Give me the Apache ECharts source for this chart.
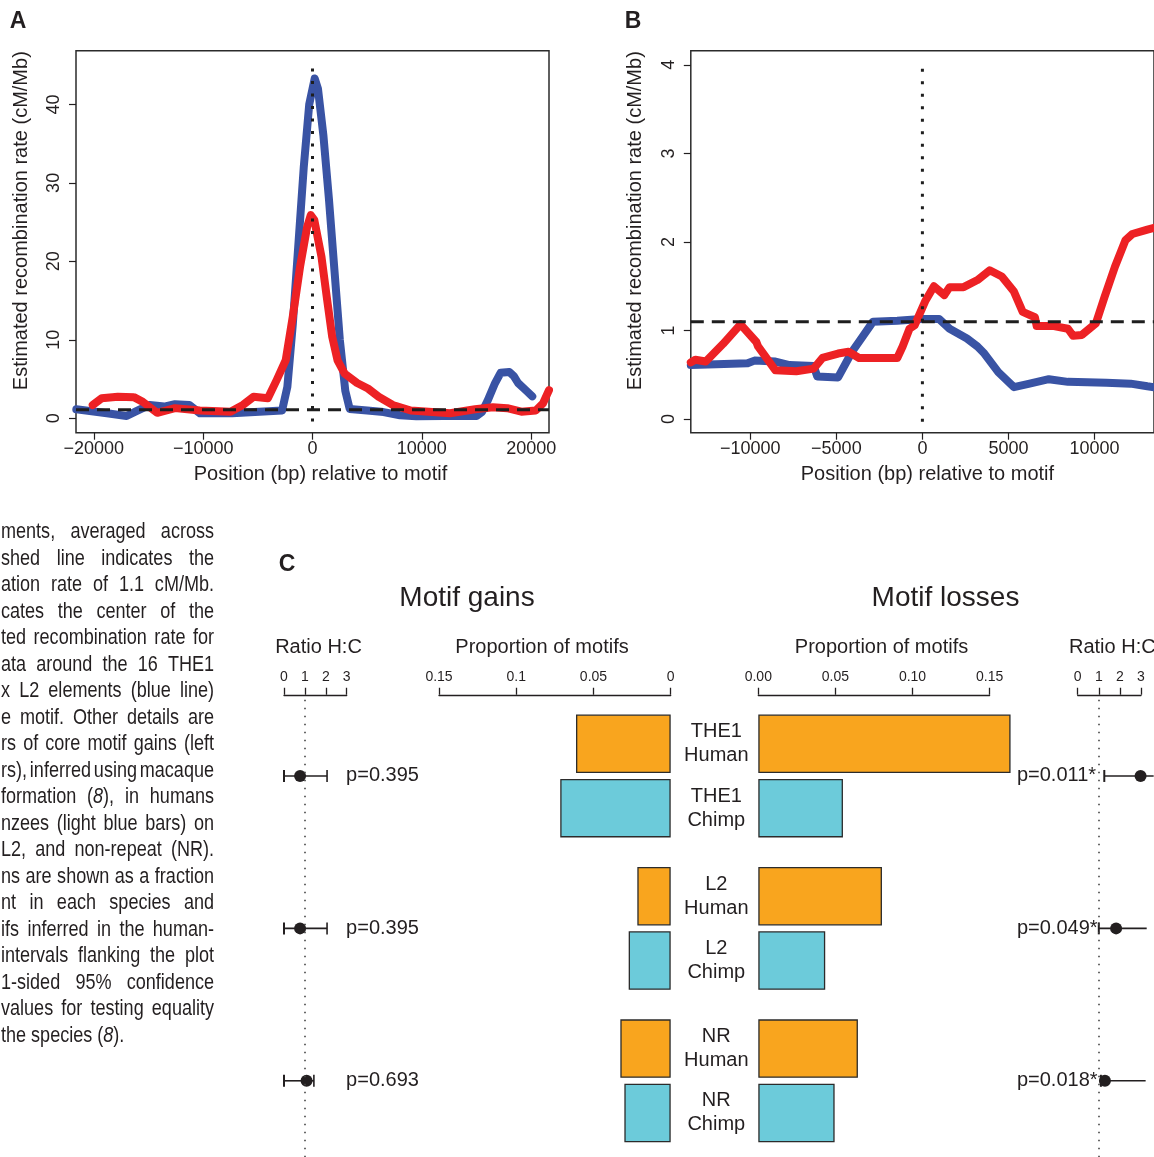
<!DOCTYPE html>
<html><head><meta charset="utf-8">
<script src="https://cdn.jsdelivr.net/npm/echarts@6/dist/echarts.min.js"></script>
<style>html,body{margin:0;padding:0;background:#fff}#c{width:1154px;height:1157px}</style>
</head><body><div id="c"></div>
<script>
// ---------- DATA ----------
// Panel A: position (bp) vs recombination rate (cM/Mb)
const aBlue = [[-21600,1.15],[-18800,0.65],[-17000,0.3],[-16200,0.85],[-14900,1.7],[-13560,1.5],[-12580,1.8],[-11270,1.7],[-10300,0.65],[-7350,0.65],[-2780,1.0],[-2700,1.1],[-2300,4],[-1800,12],[-1300,22],[-800,32],[-300,40],[200,43.3],[500,42],[1000,36],[1500,28],[2000,19],[2500,10],[3000,3.5],[3400,1.2],[5000,1.0],[6500,0.8],[8000,0.4],[9500,0.25],[12000,0.3],[15000,0.3],[15500,0.8],[16000,2.2],[16700,4.5],[17200,5.8],[18000,5.9],[18400,5.4],[18800,4.5],[19500,3.6],[20100,2.8]];
const aRed = [[-20100,1.7],[-19280,2.55],[-17800,2.75],[-16340,2.7],[-15520,2.1],[-14200,0.7],[-12580,1.3],[-10300,1.0],[-7500,0.85],[-6370,1.7],[-5390,2.75],[-4080,2.55],[-3270,4.9],[-2450,7.4],[-1800,13],[-1140,19.3],[-490,24.4],[-160,25.9],[160,25.3],[820,20.6],[1300,15.5],[1800,10.4],[2290,7.4],[2940,5.7],[4080,4.5],[5070,3.8],[6050,2.75],[7350,1.7],[8990,1.0],[10620,0.85],[12580,0.65],[14870,1.15],[16500,1.4],[17800,1.3],[19100,0.85],[20420,1.0],[21080,1.9],[21630,3.6]];
// Panel B
const bBlue = [[-13460,0.61],[-11980,0.62],[-10160,0.63],[-9760,0.66],[-8540,0.65],[-7730,0.61],[-6315,0.60],[-6110,0.48],[-4900,0.47],[-4090,0.76],[-3480,0.93],[-2870,1.10],[-1460,1.11],[-40,1.13],[970,1.13],[1580,1.02],[2590,0.91],[3200,0.82],[3600,0.74],[4410,0.53],[5320,0.36],[6230,0.40],[7350,0.45],[8460,0.42],[10690,0.41],[12100,0.40],[13075,0.37],[13460,0.36]];
const bRed = [[-13460,0.64],[-13200,0.67],[-12590,0.65],[-11580,0.85],[-10570,1.07],[-9650,0.87],[-9550,0.82],[-8540,0.55],[-7330,0.54],[-6315,0.57],[-5810,0.69],[-4900,0.74],[-4290,0.76],[-3680,0.69],[-1460,0.69],[-1150,0.82],[-750,1.02],[-445,1.06],[160,1.33],[670,1.50],[1275,1.40],[1580,1.49],[2390,1.49],[3200,1.57],[3910,1.68],[4615,1.61],[5320,1.44],[5830,1.21],[6540,1.15],[6640,1.05],[7650,1.05],[8460,1.02],[8760,0.94],[9270,0.95],[10080,1.08],[10590,1.38],[11190,1.72],[11800,2.02],[12200,2.09],[13075,2.14],[13460,2.16]];
const genomeAvg = 1.1;
const aXTicks = [-20000,-10000,0,10000,20000];
const aYTicks = [0,10,20,30,40];
const bXTicks = [-10000,-5000,0,5000,10000,15000];
const bYTicks = [0,1,2,3,4];

// Panel C
const elements = ['THE1','L2','NR'];
const species = ['Human','Chimp'];
const gainsHuman = [0.0613,0.0216,0.0326];
const gainsChimp = [0.0715,0.0272,0.0300];
const lossesHuman = [0.1636,0.0802,0.0646];
const lossesChimp = [0.0549,0.0434,0.0495];
const propTicks = [0,0.05,0.10,0.15];
const ratioTicks = [0,1,2,3];
const gainsRatio = [0.77,0.77,1.08];
const gainsLow = [0,0,0];
const gainsHigh = [2.06,2.06,1.43];
const gainsP = ['p=0.395','p=0.395','p=0.693'];
const lossesRatio = [2.98,1.82,1.29];
const lossesLow = [1.26,1.0,1.1];
const lossesHigh = [3.6,3.27,3.22];
const lossesP = ['p=0.011*','p=0.049*','p=0.018*'];

// Caption fragment (left, cropped paragraph)
const captionLines = [
 'ments, averaged across','shed line indicates the','ation rate of 1.1 cM/Mb.','cates the center of the',
 'ted recombination rate for','ata around the 16 THE1','x L2 elements (blue line)','e motif. Other details are',
 'rs of core motif gains (left','rs), inferred using macaque','formation (8), in humans','nzees (light blue bars) on',
 'L2, and non-repeat (NR).','ns are shown as a fraction','nt in each species and','ifs inferred in the human-',
 'intervals flanking the plot','1-sided 95% confidence','values for testing equality','the species (8).'
];

// ---------- STYLE ----------
const ink = '#231f20';
const BLUE = '#3953a4', RED = '#ed2124', ORANGE = '#f9a51e', LBLUE = '#6ccbda';
const FF = '"Liberation Sans", Arial, Helvetica, sans-serif';
const minus = v => String(v).replace('-', '\u2212');

const chart = echarts.init(document.getElementById('c'), null, {renderer:'canvas'});

function lineAxisX(idx, min, max, ticks, shift) {
  return {gridIndex: idx, type:'value', min, max, position:'bottom',
    axisLine:{show:false, onZero:false}, splitLine:{show:false},
    axisTick:{show:true, inside:false, length:7, lineStyle:{color:ink, width:1.2}, customValues:ticks},
    axisLabel:{show:true, customValues:ticks, margin:7, color:ink, fontSize:18, fontFamily:FF, formatter:minus},
    name:'Position (bp) relative to motif', nameLocation:'middle', nameGap:32,
    nameTextStyle:{color:ink, fontSize:20, fontFamily:FF, padding:[0,0,0,shift]}};
}
function lineAxisY(idx, min, max, ticks) {
  return {gridIndex: idx, type:'value', min, max, position:'left',
    axisLine:{show:false, onZero:false}, splitLine:{show:false},
    axisTick:{show:true, inside:false, length:7, lineStyle:{color:ink, width:1.2}, customValues:ticks},
    axisLabel:{show:true, customValues:ticks, rotate:90, margin:13, color:ink, fontSize:18, fontFamily:FF},
    name:'Estimated recombination rate (cM/Mb)', nameLocation:'middle', nameRotate:90, nameGap:45,
    nameTextStyle:{color:ink, fontSize:20, fontFamily:FF, padding:[0,0,0,42]}};
}
function topAxis(idx, min, max, ticks, fmt, inverse) {
  return {gridIndex: idx, type:'value', min, max, inverse:!!inverse, position:'top', offset:5,
    axisLine:{show:true, onZero:false, lineStyle:{color:ink, width:1.3}}, splitLine:{show:false},
    axisTick:{show:true, inside:false, length:7, lineStyle:{color:ink, width:1.3}, customValues:ticks},
    axisLabel:{show:true, customValues:ticks, margin:11, color:ink, fontSize:14, fontFamily:FF, formatter:fmt}};
}
function catAxis(idx) {
  return {gridIndex: idx, type:'category', data:elements, inverse:true, show:false};
}
function recoSeries(idx, data, color) {
  return {type:'line', xAxisIndex:idx, yAxisIndex:idx, data, showSymbol:false, symbol:'none',
    lineStyle:{color, width:8, cap:'round', join:'round'}, silent:true, animation:false, z:3};
}
function refSeries(idx, data, type, width, z) {
  return {type:'line', xAxisIndex:idx, yAxisIndex:idx, data, showSymbol:false, symbol:'none',
    lineStyle:{color:'#1e1e1e', width, type, cap:'butt'}, silent:true, animation:false, z};
}
function forestSeries(idx, est, lo, hi, pv, capHi, textAt) {
  return {type:'custom', xAxisIndex:idx, yAxisIndex:idx, silent:true, animation:false, clip:false,
    encode:{x:[1,2,3], y:0},
    data: elements.map((e,i)=>[i, est[i], lo[i], hi[i]]),
    renderItem:(params, api)=>{
      const row = api.value(0);
      const pE = api.coord([api.value(1), row]);
      const pL = api.coord([api.value(2), row]);
      const pH = api.coord([api.value(3), row]);
      const y = pE[1];
      const ch = [
        {type:'line', shape:{x1:pL[0], y1:y, x2:pH[0], y2:y}, style:{stroke:ink, lineWidth:1.6}},
        {type:'line', shape:{x1:pL[0], y1:y-6, x2:pL[0], y2:y+6}, style:{stroke:ink, lineWidth:2}}
      ];
      if (capHi) ch.push({type:'line', shape:{x1:pH[0], y1:y-6, x2:pH[0], y2:y+6}, style:{stroke:ink, lineWidth:1.6}});
      ch.push({type:'circle', shape:{cx:pE[0], cy:y, r:6}, style:{fill:ink}});
      const tx = api.coord([textAt, row])[0];
      ch.push({type:'text', style:{text:pv[params.dataIndex], x:tx, y:y, fill:ink, fontSize:20, fontFamily:FF, align:'left', verticalAlign:'middle'}});
      return {type:'group', children:ch};
    },
    markLine:{silent:true, symbol:'none', label:{show:false}, animation:false,
      lineStyle:{color:'#444', width:1.6, type:[1.6,6.4]}, data:[{xAxis:1}]}
  };
}
function barSeries(idx, data, color, name, withLabel) {
  return {type:'bar', name, xAxisIndex:idx, yAxisIndex:idx, data, barWidth:58.5, barGap:'10%',
    clip:false, silent:true, animation:false,
    itemStyle:{color, borderColor:'#2b2b2b', borderWidth:1.3},
    label: withLabel ? {show:true, position:'left', distance:6,
      formatter: p => '{a|' + p.name + '}\n{a|' + name + '}',
      rich:{a:{width:72, align:'center', fontSize:20, lineHeight:24, color:ink, fontFamily:FF}}} : {show:false}
  };
}

// caption graphics (justified lines, crop of a paragraph), condensed via scaleX
const capSize = 22, capScale = 0.82;
const mctx = document.createElement('canvas').getContext('2d');
mctx.font = capSize + 'px ' + FF;
const capRight = 214, capTop = 532, capPitch = 26.5;
const capGraphics = [];
captionLines.forEach((line, li) => {
  const words = line.split(' ');
  const widths = words.map(w => mctx.measureText(w).width * capScale);
  const total = widths.reduce((a,b)=>a+b,0);
  const last = li === captionLines.length - 1;
  let gap = last ? mctx.measureText(' ').width * capScale : (capRight - 1 - total) / Math.max(1, words.length - 1);
  let x = 1;
  if (!last && gap < 2.5) { gap = 2.5; x = capRight - total - gap*(words.length-1); }
  const y = capTop + li * capPitch;
  words.forEach((w, wi) => {
    const rich = w.indexOf('(8)') >= 0;
    capGraphics.push({type:'text', x, y, scaleX:capScale, silent:true, style:{
      text: rich ? w.replace('8', '{i|8}') : w,
      fill:ink, fontSize:capSize, fontFamily:FF, verticalAlign:'middle', align:'left',
      rich: {i:{fontStyle:'italic', fontSize:capSize, fontFamily:FF, fill:ink, verticalAlign:'middle'}}
    }});
    x += widths[wi] + gap;
  });
});

function txt(text, x, y, size, opts) {
  return Object.assign({type:'text', x, y, silent:true, style:Object.assign({text, fill:ink, fontSize:size, fontFamily:FF, align:'center', verticalAlign:'middle'}, opts||{})});
}

const option = {
  backgroundColor:'#fff',
  animation:false,
  grid:[
    {left:76, top:50.7, width:473, height:382, show:true, borderColor:'#2b2b2b', borderWidth:1.5, backgroundColor:'transparent'},
    {left:690.8, top:50.7, width:470, height:382, show:true, borderColor:'#2b2b2b', borderWidth:1.5, backgroundColor:'transparent'},
    {left:284, top:699.75, width:62.7, height:457.5},
    {left:439, top:699.75, width:231.7, height:457.5},
    {left:758.3, top:699.75, width:231.3, height:457.5},
    {left:1077.7, top:699.75, width:63.3, height:457.5}
  ],
  xAxis:[
    lineAxisX(0, -21630, 21630, aXTicks, 16),
    lineAxisX(1, -13460, 13460, bXTicks, 10),
    topAxis(2, 0, 3, ratioTicks, v=>String(v)),
    topAxis(3, 0, 0.15, propTicks, v=>String(+v.toFixed(2)), true),
    topAxis(4, 0, 0.15, propTicks, v=>v.toFixed(2)),
    topAxis(5, 0, 3, ratioTicks, v=>String(v))
  ],
  yAxis:[
    lineAxisY(0, -1.83, 46.84, aYTicks),
    lineAxisY(1, -0.154, 4.16, bYTicks),
    catAxis(2), catAxis(3), catAxis(4), catAxis(5)
  ],
  series:[
    recoSeries(0, aBlue, BLUE), recoSeries(0, aRed, RED),
    refSeries(0, [[-21630,genomeAvg],[21630,genomeAvg]], [13,8], 3, 5),
    refSeries(0, [[0,-0.4],[0,45.7]], [3,9.5], 3, 5),
    recoSeries(1, bBlue, BLUE), recoSeries(1, bRed, RED),
    refSeries(1, [[-13460,genomeAvg],[13460,genomeAvg]], [13,8], 3, 5),
    refSeries(1, [[0,-0.03],[0,4.05]], [3,9.5], 3, 5),
    barSeries(3, gainsHuman, ORANGE, species[0], false),
    barSeries(3, gainsChimp, LBLUE, species[1], false),
    barSeries(4, lossesHuman, ORANGE, species[0], true),
    barSeries(4, lossesChimp, LBLUE, species[1], true),
    forestSeries(2, gainsRatio, gainsLow, gainsHigh, gainsP, true, 2.97),
    forestSeries(5, lossesRatio, lossesLow, lossesHigh, lossesP, false, -2.88)
  ],
  graphic: [
    txt('A', 18, 22, 23, {fontWeight:'bold'}),
    txt('B', 633, 21.5, 23, {fontWeight:'bold'}),
    txt('C', 287, 565, 23, {fontWeight:'bold'}),
    txt('Motif gains', 467, 598, 28),
    txt('Motif losses', 945.5, 598, 28),
    txt('Ratio H:C', 318.5, 647, 20),
    txt('Proportion of motifs', 542, 647, 20),
    txt('Proportion of motifs', 881.5, 647, 20),
    txt('Ratio H:C', 1069, 647, 20, {align:'left'})
  ].concat(capGraphics)
};
chart.setOption(option);
</script></body></html>
